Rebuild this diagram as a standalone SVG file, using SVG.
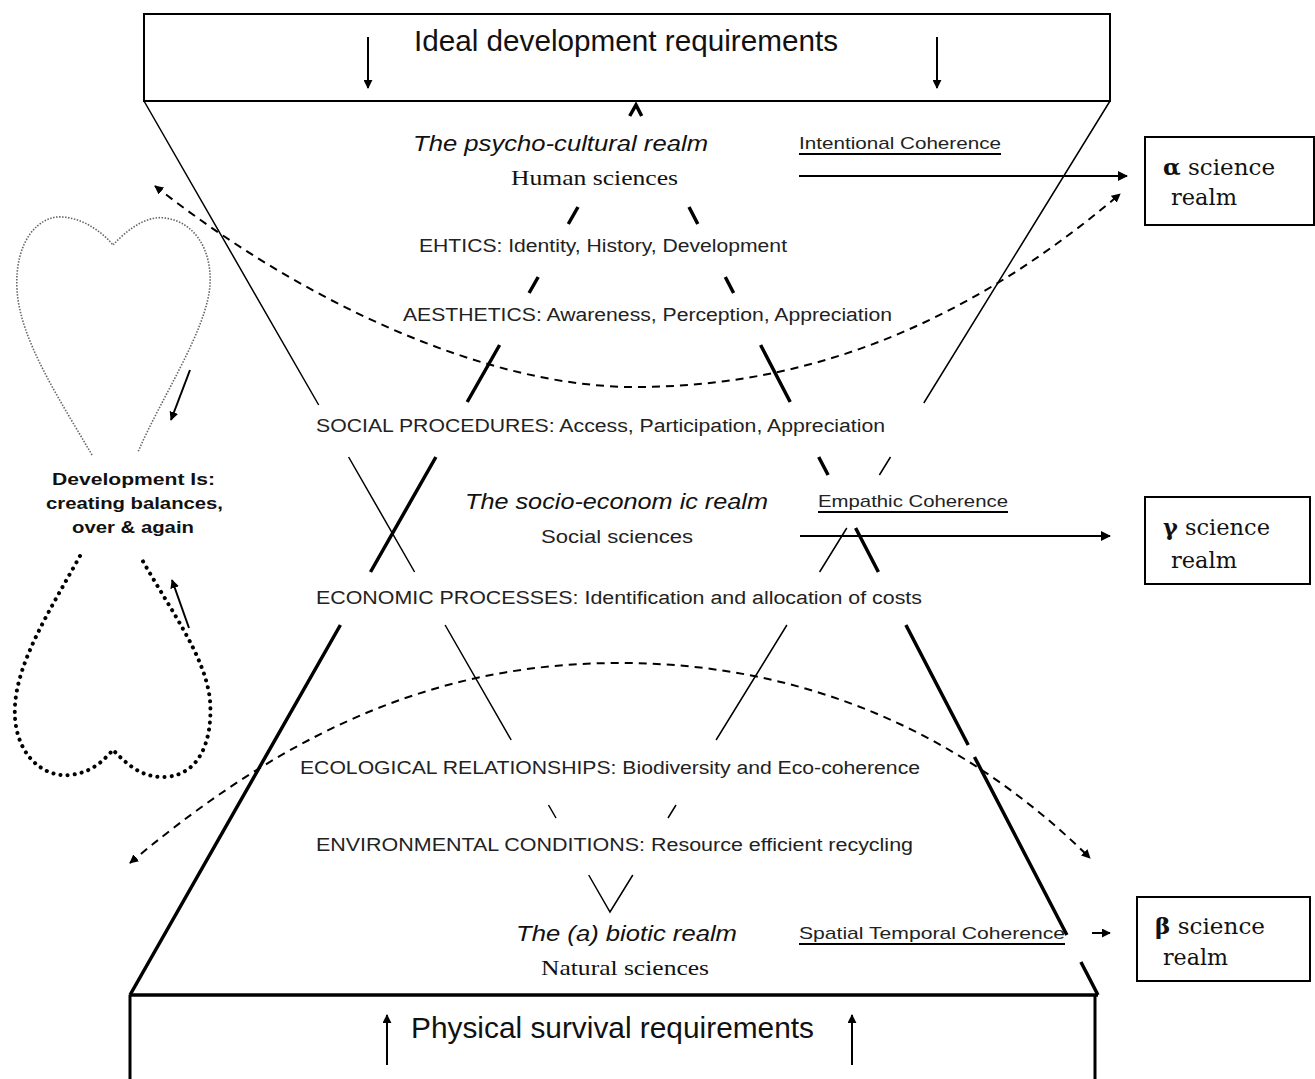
<svg xmlns="http://www.w3.org/2000/svg" width="1315" height="1079" viewBox="0 0 1315 1079">
<defs>
<marker id="ah" viewBox="0 0 10 10" refX="9" refY="5" markerWidth="10" markerHeight="10" markerUnits="userSpaceOnUse" orient="auto-start-reverse"><path d="M0,0 L10,5 L0,10 z" fill="#000"/></marker>
<marker id="ahs" viewBox="0 0 10 10" refX="9" refY="5" markerWidth="9" markerHeight="9" markerUnits="userSpaceOnUse" orient="auto-start-reverse"><path d="M0,0 L10,5 L0,10 z" fill="#000"/></marker>
</defs>
<style>
.box{fill:#fff;stroke:#000;stroke-width:2}
.thin{stroke:#000;stroke-width:1.5;fill:none}
.thick{stroke:#000;stroke-width:3.5;fill:none}
.dash{stroke:#000;stroke-width:2;fill:none;stroke-dasharray:8,6}
.arr{stroke:#000;stroke-width:2;fill:none}
.lbl{font-family:"Liberation Sans",Arial,sans-serif;font-size:18px;fill:#222}
.big{font-family:"Liberation Sans",Arial,sans-serif;font-size:29px;fill:#111}
.it{font-family:"Liberation Sans",Arial,sans-serif;font-size:22px;font-style:italic;fill:#111}
.ser{font-family:"Liberation Serif","Times New Roman",serif;font-size:21px;fill:#111}
.sci{font-family:"DejaVu Serif","Liberation Serif",serif;font-size:22px;fill:#111}
.coh{font-family:"Liberation Sans",Arial,sans-serif;font-size:17px;fill:#222}
.dev{font-family:"Liberation Sans",Arial,sans-serif;font-size:17px;font-weight:bold;fill:#111}
</style>
<rect width="1315" height="1079" fill="#fff"/>

<g id="top-box">
<rect class="box" x="144" y="14" width="966" height="87"/>
<text class="big" x="414" y="51" textLength="424" lengthAdjust="spacingAndGlyphs">Ideal development requirements</text>
</g>

<g id="bottom-box">
<path d="M130,995 L1098,995" stroke="#000" stroke-width="3.5"/>
<path d="M130,995 L130,1079 M1095,995 L1095,1079" stroke="#000" stroke-width="3"/>
<text class="big" x="411" y="1038" textLength="403" lengthAdjust="spacingAndGlyphs">Physical survival requirements</text>
</g>

<g id="alpha-box">
<rect class="box" x="1145" y="137" width="169" height="88"/>
<text class="sci" x="1163" y="175" textLength="112" lengthAdjust="spacingAndGlyphs"><tspan font-weight="bold">α</tspan> science</text>
<text class="sci" x="1171" y="205" textLength="66" lengthAdjust="spacingAndGlyphs">realm</text>
</g>
<g id="gamma-box">
<rect class="box" x="1145" y="497" width="165" height="87"/>
<text class="sci" x="1163" y="535" textLength="107" lengthAdjust="spacingAndGlyphs"><tspan font-weight="bold">γ</tspan> science</text>
<text class="sci" x="1171" y="568" textLength="66" lengthAdjust="spacingAndGlyphs">realm</text>
</g>
<g id="beta-box">
<rect class="box" x="1137" y="897" width="173" height="84"/>
<text class="sci" x="1155" y="934" textLength="110" lengthAdjust="spacingAndGlyphs"><tspan font-weight="bold">β</tspan> science</text>
<text class="sci" x="1163" y="965" textLength="65" lengthAdjust="spacingAndGlyphs">realm</text>
</g>

<g id="psycho-cultural">
<text class="it" x="413" y="151" textLength="295" lengthAdjust="spacingAndGlyphs">The psycho-cultural realm</text>
<text class="ser" x="511" y="185" textLength="167" lengthAdjust="spacingAndGlyphs">Human sciences</text>
<text class="coh" x="799" y="149" textLength="202" lengthAdjust="spacingAndGlyphs">Intentional   Coherence</text>
<path d="M799,154 L1001,154" stroke="#000" stroke-width="2"/>
</g>
<g id="ethics"><text class="lbl" x="419" y="252" textLength="368" lengthAdjust="spacingAndGlyphs">EHTICS:  Identity,  History,  Development</text></g>
<g id="aesthetics"><text class="lbl" x="403" y="321" textLength="489" lengthAdjust="spacingAndGlyphs">AESTHETICS:  Awareness,  Perception,  Appreciation</text></g>
<g id="social"><text class="lbl" x="316" y="432" textLength="569" lengthAdjust="spacingAndGlyphs">SOCIAL  PROCEDURES:  Access,  Participation,  Appreciation</text></g>
<g id="socio-economic">
<text class="it" x="465" y="509" textLength="303" lengthAdjust="spacingAndGlyphs">The socio-econom ic realm</text>
<text class="lbl" x="541" y="543" font-size="20" textLength="152" lengthAdjust="spacingAndGlyphs">Social sciences</text>
<text class="coh" x="818" y="507" textLength="190" lengthAdjust="spacingAndGlyphs">Empathic  Coherence</text>
<path d="M818,512 L1008,512" stroke="#000" stroke-width="2"/>
</g>
<g id="economic"><text class="lbl" x="316" y="604" textLength="606" lengthAdjust="spacingAndGlyphs">ECONOMIC  PROCESSES:  Identification  and  allocation  of  costs</text></g>
<g id="ecological"><text class="lbl" x="300" y="774" textLength="620" lengthAdjust="spacingAndGlyphs">ECOLOGICAL  RELATIONSHIPS:  Biodiversity  and  Eco-coherence</text></g>
<g id="environmental"><text class="lbl" x="316" y="851" textLength="597" lengthAdjust="spacingAndGlyphs">ENVIRONMENTAL  CONDITIONS:  Resource  efficient  recycling</text></g>
<g id="abiotic">
<text class="it" x="516" y="941" textLength="221" lengthAdjust="spacingAndGlyphs">The (a) biotic realm</text>
<text class="ser" x="541" y="975" textLength="168" lengthAdjust="spacingAndGlyphs">Natural sciences</text>
<text class="coh" x="799" y="939" textLength="266" lengthAdjust="spacingAndGlyphs">Spatial  Temporal  Coherence</text>
<path d="M799,944 L1065,944" stroke="#000" stroke-width="2"/>
</g>

<g id="development">
<text class="dev" x="52" y="485" textLength="163" lengthAdjust="spacingAndGlyphs">Development  Is:</text>
<text class="dev" x="46" y="509" textLength="177" lengthAdjust="spacingAndGlyphs">creating  balances,</text>
<text class="dev" x="72" y="533" textLength="122" lengthAdjust="spacingAndGlyphs">over  &amp; again</text>
<path d="M92,455 C60,400 20,340 17,290 C14,240 40,215 62,217 C85,218 105,235 113,245 C125,232 145,215 165,218 C195,222 212,250 210,285 C207,330 160,400 138,452" fill="none" stroke="#666" stroke-width="1.6" stroke-dasharray="1.5,1.5"/>
<path d="M80,556 C50,610 18,660 15,705 C12,750 40,778 70,775 C95,772 105,758 113,750 C125,762 140,778 165,777 C200,775 213,740 210,700 C205,655 170,610 140,556" fill="none" stroke="#000" stroke-width="4" stroke-linecap="round" stroke-dasharray="0.1,7"/>
</g>

<g id="connectors">
<path class="arr" d="M368,37 L368,88" marker-end="url(#ahs)"/>
<path class="arr" d="M937,37 L937,88" marker-end="url(#ahs)"/>
<path class="arr" d="M387,1065 L387,1015" marker-end="url(#ahs)"/>
<path class="arr" d="M852,1065 L852,1015" marker-end="url(#ahs)"/>
<path class="arr" d="M190,370 L171,420" marker-end="url(#ahs)"/>
<path class="arr" d="M189,628 L172,580" marker-end="url(#ahs)"/>
<path class="thin" d="M144,101 L318.7,405 M348.6,457 L414.6,572 M445.1,625 L511.2,740 M548.5,805 L556,818 M588.7,875 L610,912 L632.8,875 M668,818 L676,805 M716.1,740 L786.9,625 M819.6,572 L846.8,528 M879.4,475 L890.5,457 M923.8,403 L1110,101"/>
<path class="thick" stroke-width="3" d="M629.7,116 L636,105 L641.7,116 M578,207 L568.3,224 M538.2,277 L529.1,293 M499.6,345 L467.2,402 M689,207 L697.8,224 M725.3,277 L733.6,293 M760.6,345 L790.2,402 M818.7,457 L828.1,475"/>
<path class="thick" d="M435.9,457 L370.5,572 M340.4,625 L130,995 M855.6,528 L878.4,572 M905.9,625 L968.2,745 M974.5,757 L1066.9,935 M1080.9,962 L1098,995"/>
<path class="arr" d="M799,176 L1127,176" marker-end="url(#ah)"/>
<path class="arr" d="M800,536 L1110,536" marker-end="url(#ah)"/>
<path class="arr" d="M1092,933 L1110,933" marker-end="url(#ahs)"/>
<path class="dash" d="M155,186 C300,300 480,385 630,387 C800,388 960,330 1120,194" marker-start="url(#ahs)" marker-end="url(#ahs)"/>
<path class="dash" d="M130,863 C300,720 450,663 620,663 C800,663 960,730 1090,858" marker-start="url(#ahs)" marker-end="url(#ahs)"/>
</g>
</svg>
